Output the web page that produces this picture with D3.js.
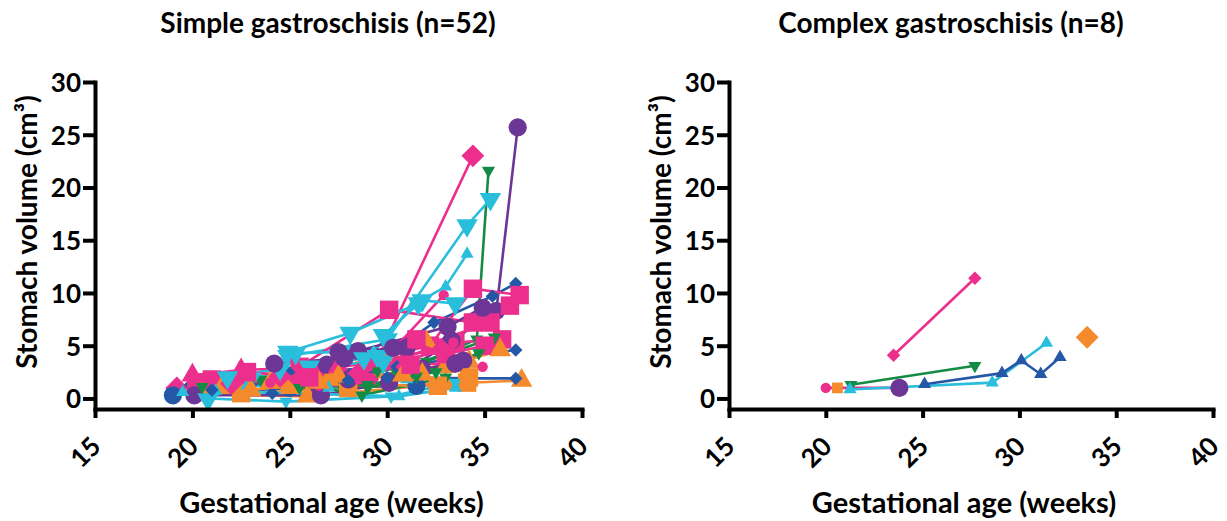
<!DOCTYPE html>
<html>
<head>
<meta charset="utf-8">
<script src="https://cdn.jsdelivr.net/npm/d3@7"></script>
<style>
    body { margin: 0; background: #fff; }
    text { font-family: Lato, "Open Sans", sans-serif; font-weight: 700; fill: #000; }
</style>
</head>
<body>
<svg id="chart" width="1227" height="521"></svg>
<script>
// ---- data -------------------------------------------------------------
const weekTicks = [15, 20, 25, 30, 35, 40];
const volumeTicks = [0, 5, 10, 15, 20, 25, 30];

// simple gastroschisis: one list of [weeks, cm3] per fetus
const simpleSeries = [
    [[19.2, 1.0], [29.0, 1.8], [34.4, 23.0]],
    [[21.5, 1.3], [27.5, 1.6], [30.5, 2.4], [34.6, 5.6], [35.2, 21.6]],
    [[24.9, 4.0], [30.0, 5.6], [34.1, 16.4], [35.3, 18.9]],
    [[22.0, 0.9], [29.3, 4.4], [31.3, 8.8], [33.0, 10.6], [34.1, 13.7]],
    [[26.5, 0.9], [30.1, 1.5], [35.6, 8.3], [36.7, 25.7]],
    [[19.9, 1.3], [24.1, 0.5], [26.9, 1.4], [29.0, 2.7], [32.4, 7.2], [35.4, 9.7], [36.6, 10.9]],
    [[25.5, 3.0], [30.1, 8.4], [34.4, 7.2]],
    [[21.0, 1.8], [26.5, 2.5], [32.2, 5.0], [34.4, 10.4], [36.8, 9.8]],
    [[22.3, 1.5], [29.5, 3.5], [35.3, 7.2], [36.3, 8.8]],
    [[20.2, 1.5], [27.0, 2.0], [33.5, 5.3], [35.9, 5.6]],
    [[20.5, 0.4], [25.9, 0.2], [33.0, 1.4], [36.9, 1.7]],
    [[21.5, 1.0], [27.0, 1.8], [32.0, 5.4], [34.2, 3.5]],
    [[22.5, 0.5], [28.0, 1.0], [34.1, 1.5]],
    [[24.0, 1.5], [30.1, 4.1], [33.0, 3.0]],
    [[19.0, 0.3], [25.0, 1.0], [31.5, 1.2]],
    [[20.1, 0.3], [26.6, 0.3], [30.1, 1.5], [33.9, 3.6]],
    [[26.9, 3.2], [28.5, 4.5], [33.1, 6.8], [34.9, 8.6]],
    [[24.9, 4.4], [28.1, 6.2], [31.6, 9.0]],
    [[20.8, -0.1], [25.3, 4.3], [27.6, 4.4], [29.5, 4.0]],
    [[20.8, 0.0], [24.8, -0.3], [30.2, 0.2], [33.5, 1.5]],
    [[20.0, 2.2], [22.5, 2.7], [27.5, 3.0], [31.0, 4.0]],
    [[24.0, 1.5], [30.5, 3.5], [34.9, 3.0]],
    [[26.5, 1.2], [29.0, 2.0], [32.9, 9.8]],
    [[30.0, 2.0], [34.2, 1.9], [36.6, 1.9]],
    [[25.0, 2.4], [30.5, 3.0], [36.6, 4.6]],
    [[22.0, 1.0], [25.0, 1.6], [28.7, 0.3], [33.0, 2.0]],
    [[23.5, 1.8], [28.0, 1.9], [32.0, 3.5], [35.5, 5.8]],
    [[20.5, 1.1], [26.0, 2.3], [29.5, 2.6]],
    [[21.2, 0.7], [30.6, 0.2], [33.5, 1.0]],
    [[27.5, 4.4], [31.0, 4.8], [33.3, 5.5]],
    [[25.0, 1.3], [32.6, 1.2], [34.2, 2.0]],
    [[22.0, 1.4], [25.5, 1.8], [31.0, 3.0]],
    [[23.0, 1.9], [26.0, 3.0], [29.8, 3.5]],
    [[31.5, 5.6], [33.0, 4.2], [35.0, 5.0]],
    [[28.0, 1.8], [31.8, 2.8], [33.5, 3.3]],
    [[27.5, 2.1], [31.8, 2.3], [35.8, 4.6]],
    [[24.5, 2.1], [28.5, 2.3], [32.8, 4.6]],
    [[29.8, 6.0], [31.8, 9.3], [33.5, 9.0]],
    [[29.0, 1.0], [31.5, 2.1], [34.7, 4.3]],
    [[21.0, 0.8], [23.0, 1.3], [28.0, 1.7]],
    [[29.0, 3.0], [32.0, 4.5], [33.4, 5.3]],
    [[19.5, 0.6], [22.8, 1.2], [27.0, 1.0], [31.0, 1.8]],
    [[23.0, 0.8], [26.5, 1.5], [30.8, 2.2]],
    [[21.8, 2.0], [24.5, 2.8], [28.8, 3.8]],
    [[25.5, 1.0], [29.0, 1.3], [32.5, 2.5]],
    [[22.8, 2.5], [26.0, 2.0], [31.2, 3.2]],
    [[24.2, 3.3], [27.8, 3.8], [30.3, 4.8]]
];
const simpleColor = ["pink", "green", "cyan", "cyan", "purple", "blue", "pink", "pink", "pink", "pink",
    "orange", "orange", "orange", "orange", "blue", "purple", "purple", "cyan", "cyan", "cyan",
    "pink", "pink", "pink", "blue", "blue", "green", "green", "green", "cyan", "purple",
    "orange", "pink", "cyan", "pink", "purple", "orange", "pink", "cyan", "green", "blue", "pink",
    "cyan", "orange", "cyan", "green", "pink", "purple"];
const simpleShape = ["diamond", "down", "down", "up", "circle", "diamond", "square", "square", "square", "square",
    "up", "up", "square", "up", "circle", "circle", "circle", "down", "down", "down",
    "up", "circle", "circle", "diamond", "diamond", "down", "down", "down", "up", "circle",
    "square", "diamond", "down", "square", "circle", "up", "diamond", "down", "down", "diamond", "circle",
    "up", "up", "down", "down", "square", "circle"];
const simpleBig = [1, 0, 1, 0, 1, 0, 1, 1, 1, 1,
    1, 1, 1, 1, 1, 1, 1, 1, 1, 0,
    1, 0, 0, 0, 0, 0, 0, 0, 0, 1,
    1, 1, 1, 1, 1, 1, 1, 1, 0, 0, 0,
    0, 1, 1, 0, 1, 1];

// complex gastroschisis
const complexSeries = [
    [[20.0, 1.0], [23.9, 1.0]],
    [[20.6, 1.0]],
    [[21.3, 1.3], [27.7, 3.1]],
    [[21.25, 0.85], [28.6, 1.5], [31.4, 5.25]],
    [[23.8, 1.0]],
    [[25.1, 1.35], [29.1, 2.4], [30.1, 3.6], [31.1, 2.3], [32.1, 3.9]],
    [[23.5, 4.1], [27.7, 11.4]],
    [[33.5, 5.8]]
];
const complexColor = ["pink", "orange", "green", "cyan", "purple", "blue", "pink", "orange"];
const complexShape = ["circle", "square", "down", "up", "circle", "up", "diamond", "diamond"];
const complexBig = [0, 0, 0, 0, 1, 0, 0, 1];

// ---- drawing ----------------------------------------------------------
const palette = {
    pink: "#EC2F8C", cyan: "#29BFDC", blue: "#2458A6",
    purple: "#6B3695", green: "#148B44", orange: "#F48A2B"
};

// symbol areas for small / big markers
const symbolArea = {
    circle:  [85, 260],
    square:  [115, 340],
    up:      [75, 200],
    down:    [75, 200],
    diamond: [90, 260]
};

function symbolPath(shape, big) {
    let type = shape === "circle" ? d3.symbolCircle
        : (shape === "up" || shape === "down") ? d3.symbolTriangle
        : d3.symbolSquare;
    return d3.symbol().type(type).size(symbolArea[shape][big ? 1 : 0])();
}

function symbolRotate(shape) {
    if (shape === "down") return " rotate(180)";
    if (shape === "diamond") return " rotate(45)";
    return "";
}

const svg = d3.select("#chart");
svg.append("rect").attr("width", 1227).attr("height", 521).attr("fill", "#fff");

function drawPanel(left, right, title, titleX, series, colorKeys, shapes, bigs) {
    let top = 82, bottom = 409;

    let x = d3.scaleLinear().domain([15, 40]).range([left, right]);
    let y = d3.scaleLinear().domain([-1, 30]).range([bottom, top]);

    let g = svg.append("g");

    // lines first, then markers on top
    let line = d3.line().x(d => x(d[0])).y(d => y(d[1]));

    series.forEach((s, i) => {
        if (s.length > 1) {
            g.append("path")
                .attr("d", line(s))
                .attr("fill", "none")
                .attr("stroke", palette[colorKeys[i]])
                .attr("stroke-width", 2.6);
        }
    });

    series.forEach((s, i) => {
        g.selectAll(null).data(s).enter().append("path")
            .attr("d", symbolPath(shapes[i], bigs[i]))
            .attr("transform", d => "translate(" + x(d[0]) + "," + y(d[1]) + ")" + symbolRotate(shapes[i]))
            .attr("fill", palette[colorKeys[i]]);
    });

    // y axis
    let yAxis = g.append("g")
        .attr("transform", "translate(" + left + ",0)")
        .call(d3.axisLeft(y).tickValues(volumeTicks).tickSize(12).tickSizeOuter(0).tickPadding(2));
    yAxis.selectAll("text").style("font-size", "26px").attr("dy", "0.36em");

    // x axis
    let xAxis = g.append("g")
        .attr("transform", "translate(0," + bottom + ")")
        .call(d3.axisBottom(x).tickValues(weekTicks).tickSize(9).tickSizeOuter(0));
    xAxis.selectAll("text")
        .style("font-size", "26px")
        .attr("y", 0).attr("dy", 0)
        .attr("text-anchor", "end")
        .attr("transform", "translate(7,39) rotate(-45)");

    g.selectAll(".domain, .tick line")
        .attr("stroke", "#000")
        .attr("stroke-width", 4)
        .attr("stroke-linecap", "square");
    g.selectAll(".tick line").attr("stroke-linecap", "butt");

    // titles
    g.append("text")
        .attr("x", titleX).attr("y", 33)
        .attr("text-anchor", "middle")
        .style("font-size", "28px")
        .text(title);

    g.append("text")
        .attr("x", (left + right) / 2 - 7).attr("y", 513)
        .attr("text-anchor", "middle")
        .style("font-size", "29px")
        .text("Gestational age (weeks)");

    g.append("text")
        .attr("transform", "translate(" + (left - 58) + ",232) rotate(-90)")
        .attr("text-anchor", "middle")
        .style("font-size", "28px")
        .text("Stomach volume (cm³)");
}

drawPanel(95, 582, "Simple gastroschisis (n=52)", 328, simpleSeries, simpleColor, simpleShape, simpleBig);
drawPanel(729, 1213, "Complex gastroschisis (n=8)", 951, complexSeries, complexColor, complexShape, complexBig);
</script>
</body>
</html>
